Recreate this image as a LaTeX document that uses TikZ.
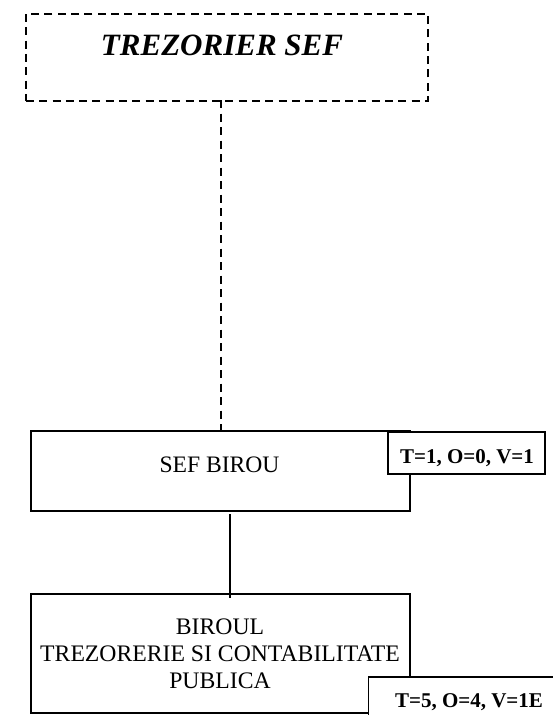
\documentclass[tikz,border=0pt]{standalone}
\usepackage{fontspec}
\setmainfont{Liberation Serif}
\begin{document}
\begin{tikzpicture}[x=1pt,y=-1pt,
  boxst/.style={draw,line width=1.8pt,fill=white,inner sep=0pt,anchor=north west},
  dashbox/.style={draw,line width=1.8pt,dash pattern=on 8pt off 5.3pt,inner sep=0pt,anchor=north west},
  conn/.style={line width=1.8pt},
  dconn/.style={line width=1.8pt,dash pattern=on 8pt off 5.5pt},
  txt/.style={inner sep=0pt,anchor=base},
  tagtxt/.style={inner sep=0pt,anchor=base,font=\fontsize{21}{24}\selectfont\bfseries}]
\useasboundingbox (0,0) rectangle (553,715);
% top dashed box
\node[dashbox,minimum width=402pt,minimum height=87pt] (top) at (25,13) {};
\node[txt,font=\fontsize{31}{36}\selectfont\bfseries\itshape] (topt) at (222,55) {TREZORIER SEF};
% SEF BIROU box
\node[boxst,minimum width=379pt,minimum height=80pt] (sef) at (30,430) {};
\node[txt,font=\fontsize{23.6}{27}\selectfont] (seft) at (219.5,472) {SEF BIROU};
\node[boxst,minimum width=157pt,minimum height=42pt] (tag1) at (387,431) {};
\node[tagtxt] (tag1t) at (467,463) {T=1, O=0, V=1};
% bottom box
\node[boxst,minimum width=379pt,minimum height=119pt] (bir) at (30,593) {};
\node[inner sep=0pt,align=center,font=\fontsize{23.7}{27}\selectfont] (birt) at (220,654) {BIROUL\\TREZORERIE SI CONTABILITATE\\PUBLICA};
\node[boxst,minimum width=200pt,minimum height=60pt] (tag2) at (367.5,676) {};
\node[tagtxt] (tag2t) at (469,707) {T=5, O=4, V=1E};
% connectors
\coordinate (d1) at (220.7,100);
\draw[dconn] (d1) -- (d1 |- sef.north);
\coordinate (s1) at (230,514);
\coordinate (s2) at (230,598);
\draw[conn] (s1) -- (s2);
\end{tikzpicture}
\end{document}
